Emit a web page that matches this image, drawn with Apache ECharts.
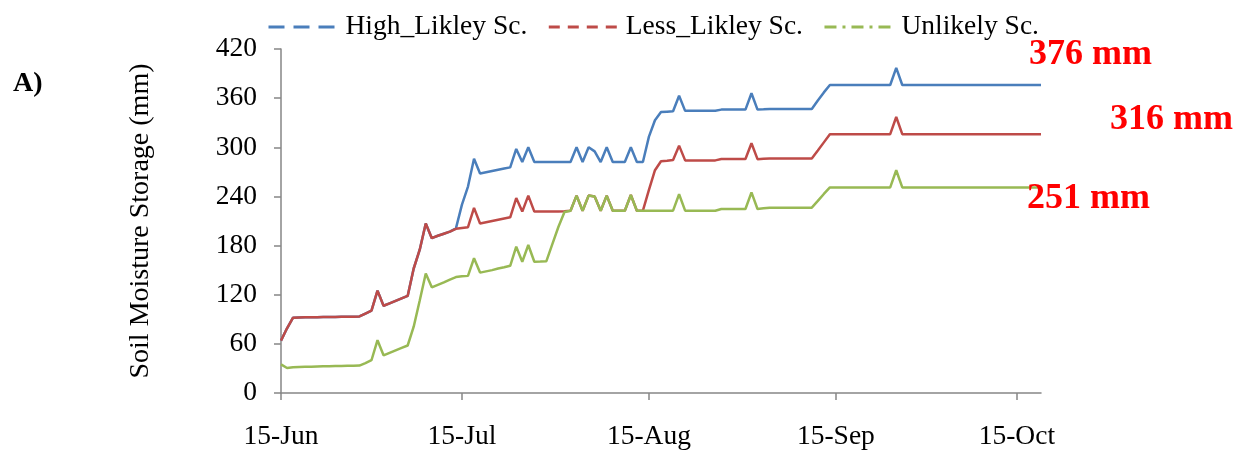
<!DOCTYPE html>
<html>
<head>
<meta charset="utf-8">
<script src="https://cdn.jsdelivr.net/npm/echarts@6/dist/echarts.min.js"></script>
<style>
  html, body { margin: 0; padding: 0; background: #fff; }
  #chart { width: 1239px; height: 453px; }
</style>
</head>
<body>
<div id="chart"></div>
<script>
// Daily soil moisture storage (mm), 15 Jun to 19 Oct
const startMonth = 5;   // June (0-based)
const startDay = 15;
const dayCount = 127;
const monthNames = ['Jan','Feb','Mar','Apr','May','Jun','Jul','Aug','Sep','Oct','Nov','Dec'];

const tickLabels = ['15-Jun', '15-Jul', '15-Aug', '15-Sep', '15-Oct'];
const yTicks = { min: 0, max: 420, step: 60 };

const seriesNames = ['High_Likley Sc.', 'Less_Likley Sc.', 'Unlikely Sc.'];

const highLikely = [
  64, 79, 92, 92.3, 92.4, 92.5, 92.6, 92.7, 92.8, 92.9,
  93, 93.1, 93.2, 93.5, 97, 100.5, 125, 106.5, 109.5, 112.5,
  115.5, 118.5, 152, 175, 207, 189, 192, 194.5, 197, 201,
  230, 252, 286, 268, 269.5, 271, 272.5, 274, 275.5, 298,
  282, 300, 282, 282, 282, 282, 282, 282, 282, 300,
  282, 300, 295, 282, 300, 282, 282, 282, 300, 282,
  282, 313, 333, 343, 343.5, 344, 363, 344.5, 344.5, 344.5,
  344.5, 344.5, 344.5, 346, 346, 346, 346, 346, 366, 346,
  346.3, 346.7, 346.7, 346.7, 346.7, 346.7, 346.7, 346.7, 346.7, 357,
  367, 376, 376, 376, 376, 376, 376, 376, 376, 376,
  376, 376, 397, 376, 376, 376, 376, 376, 376, 376,
  376, 376, 376, 376, 376, 376, 376, 376, 376, 376,
  376, 376, 376, 376, 376, 376, 376
];

const lessLikely = [
  64, 79, 92, 92.3, 92.4, 92.5, 92.6, 92.7, 92.8, 92.9,
  93, 93.1, 93.2, 93.5, 97, 100.5, 125, 106.5, 109.5, 112.5,
  115.5, 118.5, 152, 175, 207, 189, 192, 194.5, 197, 200.5,
  201.5, 202.5, 226, 207, 208.5, 210, 211.5, 213, 214.5, 238,
  221.5, 241, 221.5, 221.5, 221.5, 221.5, 221.5, 222, 222.6, 241,
  222.6, 241, 240, 222.6, 241, 222.6, 222.6, 222.6, 241.8, 222.6,
  222.6, 248, 272, 283, 283.5, 284.5, 302, 284, 284, 284,
  284, 284, 284, 285.7, 285.7, 285.7, 285.7, 285.7, 305, 285.5,
  286, 286.3, 286.3, 286.3, 286.3, 286.3, 286.3, 286.3, 286.3, 296,
  306, 316, 316, 316, 316, 316, 316, 316, 316, 316,
  316, 316, 337, 316, 316, 316, 316, 316, 316, 316,
  316, 316, 316, 316, 316, 316, 316, 316, 316, 316,
  316, 316, 316, 316, 316, 316, 316
];

const unlikely = [
  35, 30.5, 31.5, 31.8, 32, 32.2, 32.4, 32.6, 32.8, 33,
  33.1, 33.2, 33.3, 33.5, 36.5, 40, 64.5, 46, 49, 52,
  55, 58, 81, 113, 146, 129, 132, 135, 138.5, 141.5,
  142.5, 143, 164.5, 147, 148.5, 150, 152, 153.5, 155.3, 178.6,
  160.2, 180.7, 160.2, 160.5, 161, 182, 203, 221, 222.6, 241,
  222.6, 241, 240, 222.6, 241, 222.6, 222.6, 222.6, 241.8, 222.6,
  222.6, 222.6, 222.6, 222.6, 222.6, 222.6, 242.7, 222.6, 222.6, 222.6,
  222.6, 222.6, 222.6, 224.7, 224.7, 224.7, 224.7, 224.7, 245, 224.7,
  225.5, 226.3, 226.3, 226.3, 226.3, 226.3, 226.3, 226.3, 226.3, 234.5,
  243, 251, 251, 251, 251, 251, 251, 251, 251, 251,
  251, 251, 272, 251, 251, 251, 251, 251, 251, 251,
  251, 251, 251, 251, 251, 251, 251, 251, 251, 251,
  251, 251, 251, 251, 251, 251, 251
];

// Day labels such as "15-Jun"
const dates = [];
for (let i = 0; i < dayCount; i++) {
  const d = new Date(2013, startMonth, startDay + i);
  dates.push(d.getDate() + '-' + monthNames[d.getMonth()]);
}

const serif = '"Liberation Serif", "Times New Roman", serif';
const axisGray = '#868686';
const colors = ['#4A7EBB', '#BE4B48', '#98B954'];
const legendDashes = [[16, 9], [11, 8], [12, 6, 3, 6]];
const endLabelOffsets = [[-17, -30], [64, -14], [-19, 11]];
const seriesData = [highLikely, lessLikely, unlikely];

const isTick = (idx, val) => tickLabels.indexOf(val) !== -1;

const chart = echarts.init(document.getElementById('chart'), null, { renderer: 'canvas' });

chart.setOption({
  animation: false,
  backgroundColor: '#fff',
  grid: { left: 281, right: 198, top: 49, bottom: 60 },
  legend: {
    left: 262,
    top: 8,
    itemWidth: 69,
    itemHeight: 14,
    itemGap: 20,
    textStyle: { fontFamily: serif, fontSize: 27.5, color: '#000', padding: [0, 0, 0, 3] },
    data: seriesNames.map((n, i) => ({
      name: n,
      itemStyle: { color: 'transparent', borderColor: 'transparent', borderWidth: 0 },
      lineStyle: { type: legendDashes[i], width: 3, color: colors[i] }
    }))
  },
  graphic: [{
    type: 'text',
    left: 13,
    top: 70,
    style: { text: 'A)', font: 'bold 28px ' + serif, fill: '#000' }
  }],
  xAxis: {
    type: 'category',
    data: dates,
    boundaryGap: false,
    axisLine: { lineStyle: { color: axisGray, width: 1.5 } },
    axisTick: { show: true, length: 7, interval: isTick, lineStyle: { color: axisGray, width: 1.5 } },
    axisLabel: { interval: isTick, margin: 30, fontFamily: serif, fontSize: 27.5, color: '#000' },
    splitLine: { show: false }
  },
  yAxis: {
    type: 'value',
    min: yTicks.min,
    max: yTicks.max,
    interval: yTicks.step,
    name: 'Soil Moisture Storage (mm)',
    nameLocation: 'middle',
    nameGap: 126,
    nameTextStyle: { fontFamily: serif, fontSize: 28, color: '#000' },
    axisLine: { show: true, lineStyle: { color: axisGray, width: 1.5 } },
    axisTick: { show: true, length: 7, lineStyle: { color: axisGray, width: 1.5 } },
    axisLabel: { margin: 24, fontFamily: serif, fontSize: 27.5, color: '#000' },
    splitLine: { show: false }
  },
  series: seriesNames.map((n, i) => ({
    name: n,
    type: 'line',
    data: seriesData[i],
    symbol: 'none',
    lineStyle: { color: colors[i], width: 2.5 },
    itemStyle: { color: colors[i] },
    endLabel: {
      show: true,
      distance: 5,
      offset: endLabelOffsets[i],
      formatter: p => Math.round(p.value) + ' mm',
      color: '#FF0000',
      fontFamily: serif,
      fontWeight: 'bold',
      fontSize: 36
    }
  }))
});
</script>
</body>
</html>
